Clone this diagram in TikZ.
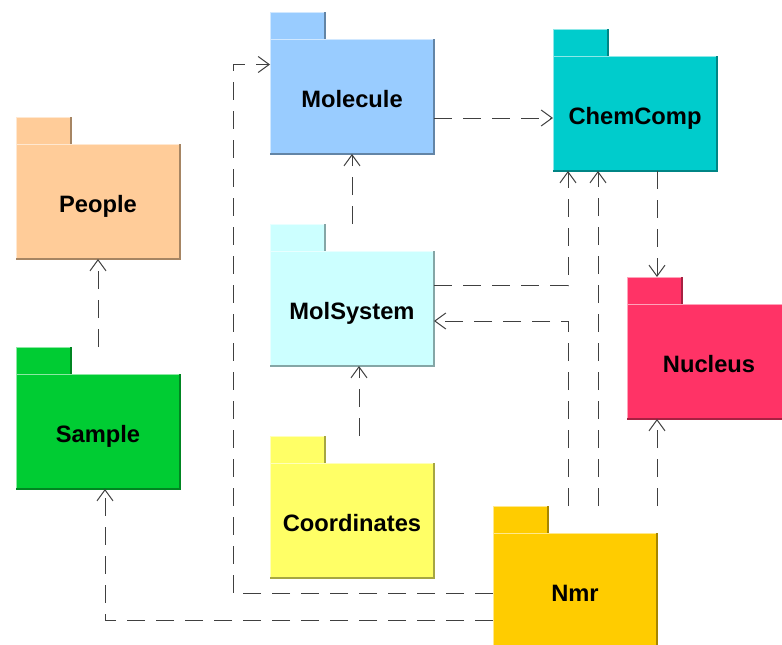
\documentclass[tikz,border=0pt]{standalone}
\usepackage{fontspec}
\setmainfont{Liberation Sans}
\usepackage{tikz}
\usetikzlibrary{arrows.meta}

\definecolor{molblue}{HTML}{99CCFF}
\definecolor{chemcyan}{HTML}{00CCCC}
\definecolor{peoplepeach}{HTML}{FFCC99}
\definecolor{samplegreen}{HTML}{00CC33}
\definecolor{molsyscyan}{HTML}{CCFFFF}
\definecolor{coordyellow}{HTML}{FFFF66}
\definecolor{nucleusred}{HTML}{FF3366}
\definecolor{nmrgold}{HTML}{FFCC00}

\tikzset{
  pkgtab/.style={draw=none, anchor=north west, minimum width=55pt, minimum height=28pt, inner sep=0pt, outer sep=0pt},
  pkgbody/.style={draw=none, anchor=north west, minimum width=164pt, minimum height=115pt, inner sep=0pt, outer sep=0pt,
    text height=21pt, text depth=0pt, font=\fontsize{23.7}{28}\selectfont\bfseries},
  pkglight/.style={line width=1pt},
  pkgdark/.style={line width=1.5pt},
  dep/.style={black!75, line width=1pt, dash pattern=on 18pt off 11pt,
    -{Straight Barb[length=11pt,width=16pt,line width=1pt]}}
}

% package: name, x, y (top left of tab), colour, label
\newcommand{\umlpkg}[5]{%
  \node[pkgtab, fill=#4] (#1-tab) at (#2,#3) {};
  \node[pkgbody, fill=#4] (#1) at (#2,#3+27) {#5};
  \draw[pkglight, draw=#4!45!white] (#1-tab.south west) |- (#1-tab.north east);
  \draw[pkgdark, draw=#4!65!black] (#1-tab.north east) -- (#1-tab.south east);
  \draw[pkglight, draw=#4!45!white] (#1.south west) |- (#1.north east);
  \draw[pkgdark, draw=#4!65!black] (#1.north east) |- (#1.south west);
}

\begin{document}
\begin{tikzpicture}[x=1pt,y=-1pt]
	\useasboundingbox (0,0) rectangle (782,645);
	\clip (0,0) rectangle (782,645);
	
	\umlpkg{molecule}{270}{12}{molblue}{Molecule}
	\umlpkg{chemcomp}{553}{29}{chemcyan}{ChemComp}
	\umlpkg{people}{16}{117}{peoplepeach}{People}
	\umlpkg{molsystem}{270}{224}{molsyscyan}{MolSystem}
	\umlpkg{sample}{16}{347}{samplegreen}{Sample}
	\umlpkg{coords}{270}{436}{coordyellow}{Coordinates}
	\umlpkg{nucleus}{627}{277}{nucleusred}{Nucleus}
	\umlpkg{nmr}{493}{506}{nmrgold}{Nmr}
	
	% lanes for the routed dependencies
	\coordinate (laneA) at (568,0);
	\coordinate (laneB) at (598,0);
	\coordinate (laneC) at (233,0);
	\coordinate (chemin) at ([yshift=-4.5pt]chemcomp.west);
	\coordinate (molin) at ([yshift=32pt]molecule.west);
	\coordinate (molsysin) at ([xshift=7pt]molsystem.south);
	\coordinate (nucin) at ([xshift=22pt]chemcomp.south);
	\coordinate (sampin) at ([xshift=7pt]sample.south);
	
	\draw[dep] (molecule.east |- chemin) -- (chemin);
	\draw[dep] (molsystem-tab.north -| molecule.south) -- (molecule.south);
	\draw[dep] (coords-tab.north -| molsysin) -- (molsysin);
	\draw[dep] (sample-tab.north -| people.south) -- (people.south);
	\draw[dep] (nucin) -- (nucleus-tab.north -| nucin);
	\draw[dep] (nmr-tab.north -| nmr.east) -- (nucleus.south -| nmr.east);
	\draw[dep] ([yshift=23pt]molsystem.east) -| (laneA |- chemcomp.south);
	\draw[dep] (laneA |- nmr-tab.north) |- ([yshift=-12.5pt]molsystem.east);
	\draw[dep] (laneB |- nmr-tab.north) -- (laneB |- chemcomp.south);
	\draw[dep] ([yshift=-3pt]nmr.west) -| (laneC |- molin) -- (molin);
	\draw[dep] ([yshift=-30pt]nmr.west) -| (sampin);
\end{tikzpicture}
\end{document}
